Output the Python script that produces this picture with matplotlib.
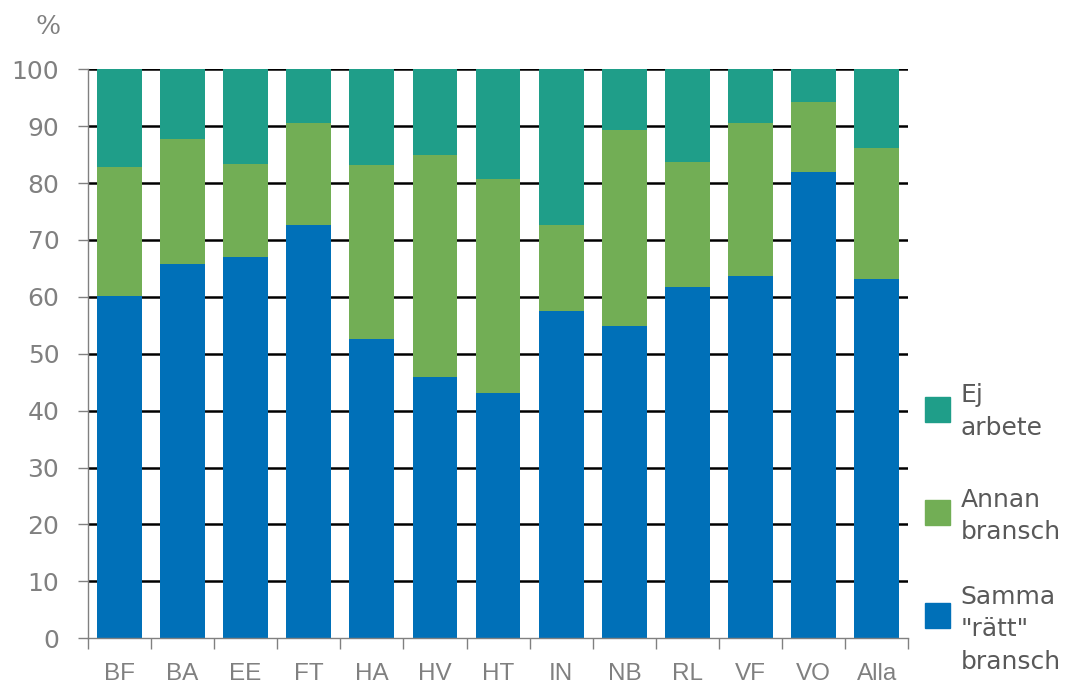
import matplotlib.pyplot as plt
import matplotlib.patches as mpatches
import numpy as np

categories = ["BF", "BA", "EE", "FT", "HA", "HV", "HT", "IN", "NB", "RL", "VF", "VO", "Alla"]
samma = [60.2, 65.7, 67.0, 72.7, 52.6, 46.0, 43.1, 57.6, 54.8, 61.7, 63.6, 81.9, 63.2]
annan = [22.6, 22.0, 16.3, 17.8, 30.6, 38.9, 37.6, 15.0, 34.5, 22.0, 26.9, 12.3, 23.0]
ej = [100 - s - a for s, a in zip(samma, annan)]
series_labels = ["Ej\narbete", "Annan\nbransch", "Samma\n\"rätt\"\nbransch"]

c_samma = "#0070B8"
c_annan = "#72AE55"
c_ej = "#1F9E89"
grey = "#808080"

fig = plt.figure(figsize=(10.7, 6.93), dpi=100)
ax = fig.add_axes([0.082, 0.079, 0.767, 0.821])

x = np.arange(len(categories))
w = 0.71
ax.bar(x, samma, w, color=c_samma, zorder=2)
ax.bar(x, annan, w, bottom=samma, color=c_annan, zorder=2)
ax.bar(x, ej, w, bottom=np.array(samma) + np.array(annan), color=c_ej, zorder=2)

ax.set_xlim(-0.5, len(categories) - 0.5)
ax.set_ylim(0, 100)
ax.set_yticks(range(0, 101, 10))
for y in range(10, 101, 10):
    ax.axhline(y, color="black", lw=1.8, zorder=1)

for s in ["top", "right"]:
    ax.spines[s].set_visible(False)
ax.spines["left"].set_color(grey)
ax.spines["bottom"].set_color(grey)
ax.spines["left"].set_linewidth(1.0)
ax.spines["bottom"].set_linewidth(1.0)

ax.tick_params(axis="y", colors=grey, labelsize=18, length=7.5, width=1.0, pad=13)
ax.set_xticks(x)
ax.set_xticklabels(categories, fontsize=17.5, color=grey, fontfamily=["Liberation Sans Narrow", "Liberation Sans"])
ax.tick_params(axis="x", length=0, pad=18)
ax.set_xticks(np.arange(len(categories) + 1) - 0.5, minor=True)
ax.tick_params(axis="x", which="minor", length=8, color=grey, width=1.0)

fig.text(0.045, 0.962, "%", fontsize=19, color=grey, family="DejaVu Serif", ha="center", va="center")

# legend drawn by hand
leg_colors = [c_ej, c_annan, c_samma]
sq_y = [0.391, 0.242, 0.094]
text_top = [0.447, 0.296, 0.156]
for col, lab, yy, ty in zip(leg_colors, series_labels, sq_y, text_top):
    fig.patches.append(mpatches.Rectangle((0.8645, yy), 0.0234, 0.036, color=col,
                                          transform=fig.transFigure, figure=fig))
    fig.text(0.898, ty, lab, fontsize=18, color="#595959", va="top", ha="left",
             linespacing=1.45)

fig.savefig("out.png", dpi=100)
